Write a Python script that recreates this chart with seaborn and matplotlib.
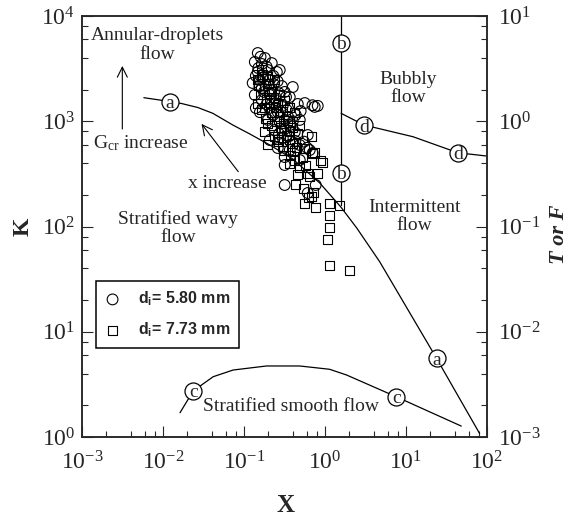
import seaborn as sns
import matplotlib.pyplot as plt
from matplotlib.ticker import LogLocator, NullFormatter, FixedLocator, FixedFormatter

# boundary curves of the flow pattern map
a_x = [0.0058, 0.0122, 0.0169, 0.0269, 0.0412, 0.0728, 0.118, 0.208, 0.400, 0.861, 1.56, 2.46, 4.73, 23.8, 81.0]
a_y = [1675, 1540, 1475, 1351, 1190, 921, 757, 595, 438, 259, 154, 97, 46.3, 5.6, 1.08]
b_x = [1.58, 1.58]
b_y = [10000, 160]
c_x = [0.0162, 0.0236, 0.0416, 0.0734, 0.189, 0.487, 1.14, 1.85, 7.59, 48.1]
c_y = [1.70, 2.74, 3.74, 4.33, 4.73, 4.73, 4.40, 3.88, 2.41, 1.27]
d_x = [1.58, 3.03, 12.2, 43.7, 100.0]
d_y = [1190, 921, 713, 502, 467]

# circled curve labels
lab_txt = ['a', 'a', 'b', 'b', 'c', 'c', 'd', 'd']
lab_x = [0.0122, 23.8, 1.58, 1.58, 0.0236, 7.59, 3.03, 43.7]
lab_y = [1540, 5.6, 5600, 324, 2.74, 2.41, 921, 502]

# experimental points, di = 5.80 mm (circles)
s1_x = [0.148, 0.181, 0.136, 0.166, 0.220, 0.197, 0.148, 0.254, 0.276, 0.128,
        0.157, 0.186, 0.233, 0.293, 0.400, 0.318, 0.208, 0.136, 0.166, 0.367,
        0.562, 0.746, 0.461, 0.337, 0.208, 0.261, 0.157, 0.435, 0.197, 0.276,
        0.367, 0.488, 0.240, 0.423, 0.612, 0.301, 0.208, 0.261, 0.367, 0.488,
        0.648, 0.318, 0.318, 0.318, 0.488, 0.612, 0.768, 0.705, 0.176, 0.247,
        0.318, 0.166, 0.208, 0.140, 0.813,
        0.160, 0.190, 0.150, 0.230, 0.170, 0.260, 0.210, 0.270, 0.190, 0.240,
        0.300, 0.330, 0.230, 0.350, 0.280, 0.400, 0.320, 0.270, 0.430, 0.360,
        0.550, 0.600, 0.140, 0.155, 0.700, 0.500]
s1_y = [4450, 3990, 3660, 3500, 3570, 3070, 2940, 2940, 3070, 2310,
        2470, 2160, 2260, 2160, 2115, 1900, 1780, 1780, 1590, 1700,
        1490, 1370, 1460, 1280, 1340, 1220, 1220, 1150, 1030, 984,
        921, 1030, 826, 791, 740, 693, 664, 557, 533, 595,
        533, 457, 384, 248, 428, 208, 248, 499, 1900, 1590,
        1028, 2070, 2466, 1336, 1400,
        4100, 3300, 3200, 2700, 2600, 2400, 2000, 1850, 1450, 1480,
        1400, 1700, 1150, 1100, 1250, 1000, 850, 760, 650, 720,
        640, 560, 2700, 2150, 1420, 1250]

# experimental points, di = 7.73 mm (squares)
s2_x = [0.166, 0.197, 0.148, 0.240, 0.181, 0.148, 0.166, 0.220, 0.276, 0.208,
        0.318, 0.247, 0.367, 0.186, 0.276, 0.423, 0.220, 0.347, 0.488, 0.293,
        0.400, 0.181, 0.261, 0.367, 0.461, 0.686, 0.197, 0.301, 0.562, 0.423,
        0.705, 0.937, 0.367, 0.488, 0.461, 0.612, 0.813, 0.746, 0.885, 0.562,
        0.768, 1.143, 1.518, 1.143, 1.143, 1.080, 1.143, 2.017, 0.686, 0.435,
        0.197,
        0.170, 0.200, 0.160, 0.230, 0.190, 0.260, 0.300, 0.220, 0.250, 0.310,
        0.280, 0.360, 0.240, 0.330, 0.400, 0.270, 0.310, 0.450, 0.380, 0.520,
        0.580, 0.420, 0.650, 0.550, 0.720, 0.620, 0.150, 0.180]
s2_y = [3070, 2690, 2470, 2470, 2070, 1490, 1280, 1900, 1780, 1520,
        1590, 1340, 1340, 1074, 1122, 1224, 902, 1028, 921, 826,
        863, 791, 664, 664, 773, 709, 595, 582, 557, 533,
        499, 410, 401, 360, 309, 322, 322, 510, 428, 167,
        150, 167, 160, 126, 97, 76, 43, 38, 191, 248,
        960,
        2800, 2300, 1800, 1700, 1600, 1450, 1250, 1200, 1000, 950,
        870, 800, 720, 740, 620, 640, 530, 560, 470, 450,
        380, 420, 300, 230, 210, 190, 2200, 1350]

sns.set_style('ticks')
plt.rcParams['font.family'] = ['Liberation Serif', 'DejaVu Serif']
plt.rcParams['mathtext.fontset'] = 'custom'
plt.rcParams['mathtext.rm'] = 'Liberation Serif'
plt.rcParams['mathtext.it'] = 'Liberation Serif:italic'
plt.rcParams['mathtext.bf'] = 'Liberation Sans:bold'

fig, ax = plt.subplots(figsize=(5.68, 5.2), dpi=100)
fig.subplots_adjust(left=0.1444, right=0.8574, bottom=0.1596, top=0.9692)
ax.set_xscale('log')
ax.set_yscale('log')

# boundary curves
for cx, cy in [(a_x, a_y), (b_x, b_y), (c_x, c_y), (d_x, d_y)]:
    sns.lineplot(x=cx, y=cy, sort=False, estimator=None, color='black', lw=0.9, ax=ax)

# data
sns.scatterplot(x=s1_x, y=s1_y, marker='o', s=60, facecolor='none', edgecolor='black',
                linewidth=0.8, ax=ax, zorder=3)
h1 = ax.collections[-1]
sns.scatterplot(x=s2_x, y=s2_y, marker='s', s=42, facecolor='none', edgecolor='black',
                linewidth=0.8, ax=ax, zorder=3)
h2 = ax.collections[-1]

# circled letters
ax.scatter(lab_x, lab_y, s=150, marker='o', facecolor='white', edgecolor='black', linewidth=0.9, zorder=4)
for t, lx, ly in zip(lab_txt, lab_x, lab_y):
    ax.text(lx, ly, t, ha='center', va='center_baseline', fontsize=14, zorder=5)

ax.set_xlim(1e-3, 1e2)
ax.set_ylim(1, 1e4)

# ticks
ax.xaxis.set_major_locator(FixedLocator([1e-3, 1e-2, 1e-1, 1e0, 1e1, 1e2]))
ax.xaxis.set_major_formatter(FixedFormatter([r'$10^{-3}$', r'$10^{-2}$', r'$10^{-1}$',
                                             r'$10^{0}$', r'$10^{1}$', r'$10^{2}$']))
ax.yaxis.set_major_locator(FixedLocator([1e0, 1e1, 1e2, 1e3, 1e4]))
ax.yaxis.set_major_formatter(FixedFormatter([r'$10^{0}$', r'$10^{1}$', r'$10^{2}$',
                                             r'$10^{3}$', r'$10^{4}$']))
for axis in [ax.xaxis, ax.yaxis]:
    axis.set_minor_locator(LogLocator(base=10, subs=(2, 4, 6, 8), numticks=20))
    axis.set_minor_formatter(NullFormatter())
ax.tick_params(which='both', direction='in', width=0.8, labelsize=17)
ax.tick_params(which='major', length=8)
ax.tick_params(which='minor', length=4)
ax.tick_params(axis='x', pad=10)
ax.tick_params(axis='y', pad=5)
ax.set_xlabel('')
ax.set_ylabel('')
for sp in ax.spines.values():
    sp.set_linewidth(1.1)

# right axis (T or F)
ax2 = ax.twinx()
ax2.set_yscale('log')
ax2.set_ylim(1e-3, 1e1)
ax2.yaxis.set_major_locator(FixedLocator([1e-3, 1e-2, 1e-1, 1e0, 1e1]))
ax2.yaxis.set_major_formatter(FixedFormatter([r'$10^{-3}$', r'$10^{-2}$', r'$10^{-1}$',
                                              r'$10^{0}$', r'$10^{1}$']))
ax2.yaxis.set_minor_locator(LogLocator(base=10, subs=(2, 4, 6, 8), numticks=20))
ax2.yaxis.set_minor_formatter(NullFormatter())
ax2.tick_params(which='both', direction='in', width=0.8, labelsize=17, pad=8)
ax2.tick_params(which='major', length=8)
ax2.tick_params(which='minor', length=4)
for sp in ax2.spines.values():
    sp.set_linewidth(1.1)

# axis titles
fig.text(13 / 568, 1 - 227 / 520, 'K', rotation=90, ha='left', va='center', fontsize=17, fontweight='bold')
fig.text(285 / 568, 1 - 505 / 520, 'X', ha='center', va='center', fontsize=18, fontweight='bold')
fig.text(549 / 568, 1 - 234 / 520, 'T or F', rotation=90, ha='left', va='center', fontsize=16,
         fontweight='bold', fontstyle='italic')

# region labels
ax.text(0.185, 0.931, 'Annular-droplets\nflow', transform=ax.transAxes, ha='center', va='center',
        fontsize=14, linespacing=1.1)
ax.text(0.027, 0.698, r'G$_{\mathregular{cr}}$ increase', transform=ax.transAxes, ha='left',
        va='center', fontsize=14)
ax.text(0.359, 0.602, 'x increase', transform=ax.transAxes, ha='center', va='center', fontsize=14)
ax.text(0.237, 0.496, 'Stratified wavy\nflow', transform=ax.transAxes, ha='center', va='center',
        fontsize=14, linespacing=1.1)
ax.text(0.805, 0.827, 'Bubbly\nflow', transform=ax.transAxes, ha='center', va='center',
        fontsize=14, linespacing=1.1)
ax.text(0.821, 0.523, 'Intermittent\nflow', transform=ax.transAxes, ha='center', va='center',
        fontsize=14, linespacing=1.1)
ax.text(0.517, 0.0736, 'Stratified smooth flow', transform=ax.transAxes, ha='center', va='center',
        fontsize=14)

# arrows
ax.annotate('', xy=(0.0995, 0.888), xytext=(0.0995, 0.725), xycoords='axes fraction',
            textcoords='axes fraction',
            arrowprops=dict(arrowstyle='->', lw=0.8, color='black', mutation_scale=18))
ax.annotate('', xy=(0.291, 0.749), xytext=(0.390, 0.625), xycoords='axes fraction',
            textcoords='axes fraction',
            arrowprops=dict(arrowstyle='->', lw=0.8, color='black', mutation_scale=18))

# legend
leg = ax.legend([h1, h2], [r'd$_\mathbf{i}$= 5.80 mm', r'd$_\mathbf{i}$= 7.73 mm'],
                loc='upper left', bbox_to_anchor=(0.034, 0.371), borderaxespad=0,
                frameon=True, fancybox=False, edgecolor='black', framealpha=1,
                handlelength=1.0, handletextpad=1.1, borderpad=0.55, labelspacing=0.8,
                prop={'family': 'Liberation Sans', 'weight': 'bold', 'size': 11.5})
leg.get_frame().set_linewidth(1.1)
leg.set_zorder(6)

plt.savefig('out.png', dpi=100)
